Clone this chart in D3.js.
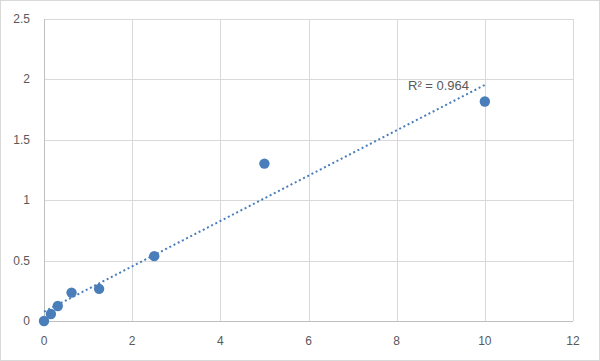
<!DOCTYPE html>
<html>
<head>
<meta charset="utf-8">
<script src="https://cdn.jsdelivr.net/npm/d3@7"></script>
<style>
  body { margin: 0; background: #fff; }
  svg { display: block; }
  .tick-label { font-family: "Liberation Sans", Arial, sans-serif; font-size: 12px; fill: #595959; }
  .grid line { stroke: #d9d9d9; stroke-width: 1; }
</style>
</head>
<body>
<svg id="chart" width="600" height="361"></svg>
<script>
"use strict";

// concentrations (x) and readings (y)
const xValues = [0, 0.15625, 0.3125, 0.625, 1.25, 2.5, 5, 10];
const yValues = [0, 0.058, 0.124, 0.235, 0.266, 0.537, 1.303, 1.817];

const xTicks = [0, 2, 4, 6, 8, 10, 12];
const yTicks = [0, 0.5, 1, 1.5, 2, 2.5];
const rSquaredLabel = "R² = 0.964";

const margins = {top: 19, right: 27, bottom: 40, left: 44};
const width = 600 - margins.left - margins.right;
const height = 361 - margins.top - margins.bottom;
const color = "#4a7ebb";

const root = d3.select("#chart");

root.append("rect")
    .attr("x", 0.5).attr("y", 0.5)
    .attr("width", 599).attr("height", 360)
    .attr("fill", "#fff")
    .attr("stroke", "#d9d9d9");

const svg = root.append("g")
    .attr("transform", `translate(${margins.left}, ${margins.top})`);

const xScale = d3.scaleLinear().domain([0, 12]).range([0, width]);
const yScale = d3.scaleLinear().domain([0, 2.5]).range([height, 0]);

// grid
svg.append("g")
   .attr("class", "grid")
   .selectAll("line")
   .data(xTicks.slice(1))
   .join("line")
   .attr("x1", x => Math.round(xScale(x)) + 0.5)
   .attr("x2", x => Math.round(xScale(x)) + 0.5)
   .attr("y1", 0)
   .attr("y2", height);

svg.append("g")
   .attr("class", "grid")
   .selectAll("line")
   .data(yTicks.slice(1))
   .join("line")
   .attr("x1", 0)
   .attr("x2", width)
   .attr("y1", y => Math.round(yScale(y)) + 0.5)
   .attr("y2", y => Math.round(yScale(y)) + 0.5);

// axis lines
svg.append("line")
   .attr("x1", 0.5).attr("x2", 0.5)
   .attr("y1", 0).attr("y2", height)
   .attr("stroke", "#bfbfbf");
svg.append("line")
   .attr("x1", 0).attr("x2", width)
   .attr("y1", Math.round(height) + 0.5).attr("y2", Math.round(height) + 0.5)
   .attr("stroke", "#bfbfbf");

// tick labels
svg.append("g")
   .selectAll("text")
   .data(xTicks)
   .join("text")
   .attr("class", "tick-label")
   .attr("text-anchor", "middle")
   .attr("x", x => xScale(x))
   .attr("y", height + 24)
   .text(x => x);

svg.append("g")
   .selectAll("text")
   .data(yTicks)
   .join("text")
   .attr("class", "tick-label")
   .attr("text-anchor", "end")
   .attr("x", -14)
   .attr("y", y => yScale(y) + 4)
   .text(y => y);

// linear trendline (least squares)
const n = xValues.length;
const mx = d3.mean(xValues), my = d3.mean(yValues);
let sxy = 0, sxx = 0;
for (let i = 0; i < n; i++) {
  sxy += (xValues[i] - mx) * (yValues[i] - my);
  sxx += (xValues[i] - mx) ** 2;
}
const slope = sxy / sxx;
const intercept = my - slope * mx;
const xExtent = d3.extent(xValues);

svg.append("line")
   .attr("x1", xScale(xExtent[0]))
   .attr("y1", yScale(intercept + slope * xExtent[0]))
   .attr("x2", xScale(xExtent[1]))
   .attr("y2", yScale(intercept + slope * xExtent[1]))
   .attr("stroke", color)
   .attr("stroke-width", 2)
   .attr("stroke-dasharray", "2,2.7");

// points
svg.append("g")
   .selectAll("circle")
   .data(xValues.map((x, i) => [x, yValues[i]]))
   .join("circle")
   .attr("cx", d => xScale(d[0]))
   .attr("cy", d => yScale(d[1]))
   .attr("r", 5.2)
   .attr("fill", color);

svg.append("text")
   .attr("class", "tick-label")
   .style("font-size", "13px")
   .attr("x", 364)
   .attr("y", 71)
   .text(rSquaredLabel);
</script>
</body>
</html>
